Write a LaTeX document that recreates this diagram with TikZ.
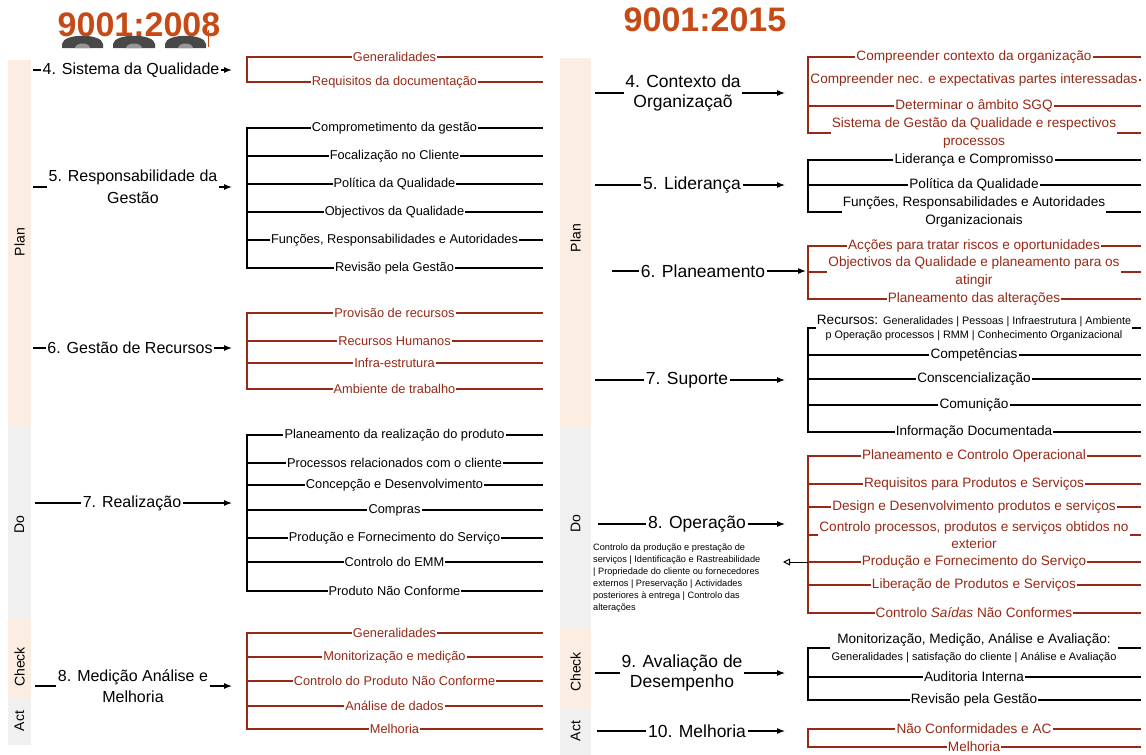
\documentclass[tikz,border=0pt]{standalone}
\usepackage{fontspec}
\setmainfont{Liberation Sans}
\usetikzlibrary{positioning, arrows.meta}
\definecolor{isoRed}{RGB}{150,42,22}
\definecolor{isoTitle}{RGB}{198,74,22}
\definecolor{planBand}{RGB}{252,237,227}
\definecolor{doBand}{RGB}{240,240,240}
\definecolor{blobGrey}{RGB}{72,72,72}
\definecolor{blobHole}{RGB}{150,150,150}

\begin{document}
\begin{tikzpicture}[x=1pt, y=-1pt,
        oldItem/.style={inner sep=1.5pt, font=\fontsize{12.8}{15}\selectfont},
        newItem/.style={inner sep=1.5pt, align=center, font=\fontsize{13.6}{17.5}\selectfont},
        oldClause/.style={inner sep=1.5pt, align=center, font=\fontsize{16}{21.5}\selectfont},
        newClause/.style={inner sep=1.5pt, align=center, font=\fontsize{17.5}{20.5}\selectfont},
        redText/.style={text=isoRed},
        redLine/.style={draw=isoRed, line width=1.1pt, line cap=rect},
        blackLine/.style={draw=black, line width=1.1pt, line cap=rect},
        link/.style={draw=black, line width=1.1pt},
        feed/.style={draw=black, line width=1.1pt, -{Latex[length=8pt, width=6pt]}},
        pdcaLabel/.style={rotate=90, font=\fontsize{14}{14}\selectfont},
        isoTitleText/.style={text=isoTitle, font=\fontsize{34}{34}\selectfont\bfseries}]
        \clip (0,0) rectangle (1146,755);
        \fill[white] (0,0) rectangle (1146,755);

        \fill[planBand] (8,60) rectangle (31,425);
        \fill[doBand] (8,425) rectangle (31,620);
        \fill[planBand] (8,620) rectangle (31,698);
        \fill[doBand] (8,698) rectangle (31,745);
        \fill[planBand] (560,58) rectangle (591,428);
        \fill[doBand] (560,428) rectangle (591,627);
        \fill[planBand] (560,627) rectangle (591,709);
        \fill[doBand] (560,709) rectangle (591,755);
        \node[pdcaLabel] (oldPlan) at (19.5,242) {Plan};
        \node[pdcaLabel] (oldDo) at (19.5,525) {Do};
        \node[pdcaLabel] (oldCheck) at (19.5,667) {Check};
        \node[pdcaLabel] (oldAct) at (19.5,721) {Act};
        \node[pdcaLabel] (newPlan) at (575.5,238) {Plan};
        \node[pdcaLabel] (newDo) at (575.5,524) {Do};
        \node[pdcaLabel] (newCheck) at (575.5,672) {Check};
        \node[pdcaLabel] (newAct) at (575.5,731) {Act};

        \fill[blobGrey] (62,48) -- (62,44) .. controls (63,33) and (102,33) .. (103,44) -- (103,48) -- cycle;
        \fill[blobGrey] (113,48) -- (113,44) .. controls (114,33) and (154,33) .. (155,44) -- (155,48) -- cycle;
        \fill[blobGrey] (165,48) -- (165,44) .. controls (166,33) and (205,33) .. (206,44) -- (206,48) -- cycle;
        \fill[blobHole] (75,48) .. controls (76,42) and (89,42) .. (90,48) -- cycle;
        \fill[blobHole] (126,48) .. controls (127,42) and (141,42) .. (142,48) -- cycle;
        \fill[blobHole] (178,48) .. controls (179,42) and (192,42) .. (193,48) -- cycle;
        \draw[isoTitle, line width=1pt] (208,30) -- (208,47);
        \node[isoTitleText] (oldTitle) at (139,25) {9001:2008};
        \node[isoTitleText] (newTitle) at (705,20) {9001:2015};

        \coordinate (oldBar) at (247,0);
        \coordinate (oldEnd) at (542,0);
        \coordinate (newBar) at (808,0);
        \coordinate (newEnd) at (1140,0);

        \node[oldClause] (oldClause4) at (131,70) {4. Sistema da Qualidade};
        \coordinate (oldIn4) at (33,70);
        \coordinate (oldOut4) at (232,70);
        \draw (oldIn4) edge[link] (oldClause4);
        \draw (oldClause4) edge[feed] (oldOut4);
        \node[oldItem, redText] (old4a) at (394.5,57) {Generalidades};
        \node[oldItem, redText] (old4b) at (394.5,82) {Requisitos da documentação};
        \draw[redLine] (oldBar |- old4a) -- (oldBar |- old4b);
        \draw[redLine] (oldBar |- old4a) -- (old4a) -- (oldEnd |- old4a);
        \draw[redLine] (oldBar |- old4b) -- (old4b) -- (oldEnd |- old4b);

        \node[oldClause] (oldClause5) at (133,187) {5. Responsabilidade da\\Gestão};
        \coordinate (oldIn5) at (33,187);
        \coordinate (oldOut5) at (232,187);
        \draw (oldIn5) edge[link] (oldClause5);
        \draw (oldClause5) edge[feed] (oldOut5);
        \node[oldItem] (old5a) at (394.5,128) {Comprometimento da gestão};
        \node[oldItem] (old5b) at (394.5,156) {Focalização no Cliente};
        \node[oldItem] (old5c) at (394.5,184) {Política da Qualidade};
        \node[oldItem] (old5d) at (394.5,212) {Objectivos da Qualidade};
        \node[oldItem] (old5e) at (394.5,240) {Funções, Responsabilidades e Autoridades};
        \node[oldItem] (old5f) at (394.5,268) {Revisão pela Gestão};
        \draw[blackLine] (oldBar |- old5a) -- (oldBar |- old5f);
        \draw[blackLine] (oldBar |- old5a) -- (old5a) -- (oldEnd |- old5a);
        \draw[blackLine] (oldBar |- old5b) -- (old5b) -- (oldEnd |- old5b);
        \draw[blackLine] (oldBar |- old5c) -- (old5c) -- (oldEnd |- old5c);
        \draw[blackLine] (oldBar |- old5d) -- (old5d) -- (oldEnd |- old5d);
        \draw[blackLine] (oldBar |- old5e) -- (old5e) -- (oldEnd |- old5e);
        \draw[blackLine] (oldBar |- old5f) -- (old5f) -- (oldEnd |- old5f);

        \node[oldClause] (oldClause6) at (130,348) {6. Gestão de Recursos};
        \coordinate (oldIn6) at (33,348);
        \coordinate (oldOut6) at (232,348);
        \draw (oldIn6) edge[link] (oldClause6);
        \draw (oldClause6) edge[feed] (oldOut6);
        \node[oldItem, redText] (old6a) at (394.5,313) {Provisão de recursos};
        \node[oldItem, redText] (old6b) at (394.5,341) {Recursos Humanos};
        \node[oldItem, redText] (old6c) at (394.5,363) {Infra-estrutura};
        \node[oldItem, redText] (old6d) at (394.5,389) {Ambiente de trabalho};
        \draw[redLine] (oldBar |- old6a) -- (oldBar |- old6d);
        \draw[redLine] (oldBar |- old6a) -- (old6a) -- (oldEnd |- old6a);
        \draw[redLine] (oldBar |- old6b) -- (old6b) -- (oldEnd |- old6b);
        \draw[redLine] (oldBar |- old6c) -- (old6c) -- (oldEnd |- old6c);
        \draw[redLine] (oldBar |- old6d) -- (old6d) -- (oldEnd |- old6d);

        \node[oldClause] (oldClause7) at (132,503) {7. Realização};
        \coordinate (oldIn7) at (35,503);
        \coordinate (oldOut7) at (232,503);
        \draw (oldIn7) edge[link] (oldClause7);
        \draw (oldClause7) edge[feed] (oldOut7);
        \node[oldItem] (old7a) at (394.5,435) {Planeamento da realização do produto};
        \node[oldItem] (old7b) at (394.5,463) {Processos relacionados com o cliente};
        \node[oldItem] (old7c) at (394.5,485) {Concepção e Desenvolvimento};
        \node[oldItem] (old7d) at (394.5,510) {Compras};
        \node[oldItem] (old7e) at (394.5,538) {Produção e Fornecimento do Serviço};
        \node[oldItem] (old7f) at (394.5,562) {Controlo do EMM};
        \node[oldItem] (old7g) at (394.5,591) {Produto Não Conforme};
        \draw[blackLine] (oldBar |- old7a) -- (oldBar |- old7g);
        \draw[blackLine] (oldBar |- old7a) -- (old7a) -- (oldEnd |- old7a);
        \draw[blackLine] (oldBar |- old7b) -- (old7b) -- (oldEnd |- old7b);
        \draw[blackLine] (oldBar |- old7c) -- (old7c) -- (oldEnd |- old7c);
        \draw[blackLine] (oldBar |- old7d) -- (old7d) -- (oldEnd |- old7d);
        \draw[blackLine] (oldBar |- old7e) -- (old7e) -- (oldEnd |- old7e);
        \draw[blackLine] (oldBar |- old7f) -- (old7f) -- (oldEnd |- old7f);
        \draw[blackLine] (oldBar |- old7g) -- (old7g) -- (oldEnd |- old7g);

        \node[oldClause] (oldClause8) at (133,686) {8. Medição Análise e\\Melhoria};
        \coordinate (oldIn8) at (35,686);
        \coordinate (oldOut8) at (232,686);
        \draw (oldIn8) edge[link] (oldClause8);
        \draw (oldClause8) edge[feed] (oldOut8);
        \node[oldItem, redText] (old8a) at (394.5,633) {Generalidades};
        \node[oldItem, redText] (old8b) at (394.5,657) {Monitorização e medição};
        \node[oldItem, redText] (old8c) at (394.5,681) {Controlo do Produto Não Conforme};
        \node[oldItem, redText] (old8d) at (394.5,706) {Análise de dados};
        \node[oldItem, redText] (old8e) at (394.5,729) {Melhoria};
        \draw[redLine] (oldBar |- old8a) -- (oldBar |- old8e);
        \draw[redLine] (oldBar |- old8a) -- (old8a) -- (oldEnd |- old8a);
        \draw[redLine] (oldBar |- old8b) -- (old8b) -- (oldEnd |- old8b);
        \draw[redLine] (oldBar |- old8c) -- (old8c) -- (oldEnd |- old8c);
        \draw[redLine] (oldBar |- old8d) -- (old8d) -- (oldEnd |- old8d);
        \draw[redLine] (oldBar |- old8e) -- (old8e) -- (oldEnd |- old8e);

        \node[newClause] (newClause4) at (683,93) {4. Contexto da\\Organizaçaõ};
        \coordinate (newIn4) at (595,93);
        \coordinate (newOut4) at (785,93);
        \draw (newIn4) edge[link] (newClause4);
        \draw (newClause4) edge[feed] (newOut4);
        \node[newItem, redText] (new4a) at (974,57) {Compreender contexto da organização};
        \node[newItem, redText] (new4b) at (974,80) {Compreender nec. e expectativas partes interessadas};
        \node[newItem, redText] (new4c) at (974,106) {Determinar o âmbito SGQ};
        \node[newItem, redText] (new4d) at (974,133) {Sistema de Gestão da Qualidade e respectivos\\processos};
        \draw[redLine] (newBar |- new4a) -- (newBar |- new4d);
        \draw[redLine] (newBar |- new4a) -- (new4a) -- (newEnd |- new4a);
        \draw[redLine] (newBar |- new4b) -- (new4b) -- (newEnd |- new4b);
        \draw[redLine] (newBar |- new4c) -- (new4c) -- (newEnd |- new4c);
        \draw[redLine] (newBar |- new4d) -- (new4d) -- (newEnd |- new4d);

        \node[newClause] (newClause5) at (692,185) {5. Liderança};
        \coordinate (newIn5) at (595,185);
        \coordinate (newOut5) at (785,185);
        \draw (newIn5) edge[link] (newClause5);
        \draw (newClause5) edge[feed] (newOut5);
        \node[newItem] (new5a) at (974,160) {Liderança e Compromisso};
        \node[newItem] (new5b) at (974,185) {Política da Qualidade};
        \node[newItem] (new5c) at (974,212) {Funções, Responsabilidades e Autoridades\\Organizacionais};
        \draw[blackLine] (newBar |- new5a) -- (newBar |- new5c);
        \draw[blackLine] (newBar |- new5a) -- (new5a) -- (newEnd |- new5a);
        \draw[blackLine] (newBar |- new5b) -- (new5b) -- (newEnd |- new5b);
        \draw[blackLine] (newBar |- new5c) -- (new5c) -- (newEnd |- new5c);

        \node[newClause] (newClause6) at (703,271) {6. Planeamento};
        \coordinate (newIn6) at (612,271);
        \coordinate (newOut6) at (806,271);
        \draw (newIn6) edge[link] (newClause6);
        \draw (newClause6) edge[feed] (newOut6);
        \node[newItem, redText] (new6a) at (974,246) {Acções para tratar riscos e oportunidades};
        \node[newItem, redText] (new6b) at (974,272) {Objectivos da Qualidade e planeamento para os\\atingir};
        \node[newItem, redText] (new6c) at (974,299) {Planeamento das alterações};
        \draw[redLine] (newBar |- new6a) -- (newBar |- new6c);
        \draw[redLine] (newBar |- new6a) -- (new6a) -- (newEnd |- new6a);
        \draw[redLine] (newBar |- new6b) -- (new6b) -- (newEnd |- new6b);
        \draw[redLine] (newBar |- new6c) -- (new6c) -- (newEnd |- new6c);

        \node[newClause] (newClause7) at (687,380) {7. Suporte};
        \coordinate (newIn7) at (595,380);
        \coordinate (newOut7) at (785,380);
        \draw (newIn7) edge[link] (newClause7);
        \draw (newClause7) edge[feed] (newOut7);
        \node[newItem] (new7a) at (974,328) {Recursos: {\fontsize{10.8}{13}\selectfont Generalidades | Pessoas | Infraestrutura | Ambiente}\\[-3.5pt]{\fontsize{10.8}{13}\selectfont p Operação processos | RMM | Conhecimento Organizacional}};
        \node[newItem] (new7b) at (974,355) {Competências};
        \node[newItem] (new7c) at (974,379) {Conscencialização};
        \node[newItem] (new7d) at (974,405) {Comunição};
        \node[newItem] (new7e) at (974,432) {Informação Documentada};
        \draw[blackLine] (newBar |- new7a) -- (newBar |- new7e);
        \draw[blackLine] (newBar |- new7a) -- (new7a) -- (newEnd |- new7a);
        \draw[blackLine] (newBar |- new7b) -- (new7b) -- (newEnd |- new7b);
        \draw[blackLine] (newBar |- new7c) -- (new7c) -- (newEnd |- new7c);
        \draw[blackLine] (newBar |- new7d) -- (new7d) -- (newEnd |- new7d);
        \draw[blackLine] (newBar |- new7e) -- (new7e) -- (newEnd |- new7e);

        \node[newClause] (newClause8) at (697,524) {8. Operação};
        \coordinate (newIn8) at (598,524);
        \coordinate (newOut8) at (785,524);
        \draw (newIn8) edge[link] (newClause8);
        \draw (newClause8) edge[feed] (newOut8);
        \node[newItem, redText] (new8a) at (974,456) {Planeamento e Controlo Operacional};
        \node[newItem, redText] (new8b) at (974,484) {Requisitos para Produtos e Serviços};
        \node[newItem, redText] (new8c) at (974,507) {Design e Desenvolvimento produtos e serviços};
        \node[newItem, redText] (new8d) at (974,535) {Controlo processos, produtos e serviços obtidos no\\exterior};
        \node[newItem, redText] (new8e) at (974,562) {Produção e Fornecimento do Serviço};
        \node[newItem, redText] (new8f) at (974,585) {Liberação de Produtos e Serviços};
        \node[newItem, redText] (new8g) at (974,613) {Controlo \textit{Saídas} Não Conformes};
        \draw[redLine] (newBar |- new8a) -- (newBar |- new8g);
        \draw[redLine] (newBar |- new8a) -- (new8a) -- (newEnd |- new8a);
        \draw[redLine] (newBar |- new8b) -- (new8b) -- (newEnd |- new8b);
        \draw[redLine] (newBar |- new8c) -- (new8c) -- (newEnd |- new8c);
        \draw[redLine] (newBar |- new8d) -- (new8d) -- (newEnd |- new8d);
        \draw[redLine] (newBar |- new8e) -- (new8e) -- (newEnd |- new8e);
        \draw[redLine] (newBar |- new8f) -- (new8f) -- (newEnd |- new8f);
        \draw[redLine] (newBar |- new8g) -- (new8g) -- (newEnd |- new8g);
        \node[anchor=north west, inner sep=0pt, align=left, font=\fontsize{9.2}{12}\selectfont] (opNote) at (593,544) {Controlo da produção e prestação de\\serviços | Identificação e Rastreabilidade\\| Propriedade do cliente ou fornecedores\\externos | Preservação | Actividades\\posteriores à entrega | Controlo das\\alterações};
        \coordinate (opTip) at (783,562);
        \draw (newBar |- new8e) edge[draw=black, line width=1pt, -{Triangle[open, length=7pt, width=7pt]}] (opTip);

        \node[newClause] (newClause9) at (682,673) {9. Avaliação de\\Desempenho};
        \coordinate (newIn9) at (595,673);
        \coordinate (newOut9) at (785,673);
        \draw (newIn9) edge[link] (newClause9);
        \draw (newClause9) edge[feed] (newOut9);
        \node[newItem] (new9a) at (974,648) {Monitorização, Medição, Análise e Avaliação:\\{\fontsize{11}{13}\selectfont Generalidades | satisfação do cliente | Análise e Avaliação}};
        \node[newItem] (new9b) at (974,677) {Auditoria Interna};
        \node[newItem] (new9c) at (974,700) {Revisão pela Gestão};
        \draw[blackLine] (newBar |- new9a) -- (newBar |- new9c);
        \draw[blackLine] (newBar |- new9a) -- (new9a) -- (newEnd |- new9a);
        \draw[blackLine] (newBar |- new9b) -- (new9b) -- (newEnd |- new9b);
        \draw[blackLine] (newBar |- new9c) -- (new9c) -- (newEnd |- new9c);

        \node[newClause] (newClause10) at (697,731) {10. Melhoria};
        \coordinate (newIn10) at (597,731);
        \coordinate (newOut10) at (785,731);
        \draw (newIn10) edge[link] (newClause10);
        \draw (newClause10) edge[feed] (newOut10);
        \node[newItem, redText] (new10a) at (974,729) {Não Conformidades e AC};
        \node[newItem, redText] (new10b) at (974,747) {Melhoria};
        \draw[redLine] (newBar |- new10a) -- (newBar |- new10b);
        \draw[redLine] (newBar |- new10a) -- (new10a) -- (newEnd |- new10a);
        \draw[redLine] (newBar |- new10b) -- (new10b) -- (newEnd |- new10b);
\end{tikzpicture}
\end{document}
